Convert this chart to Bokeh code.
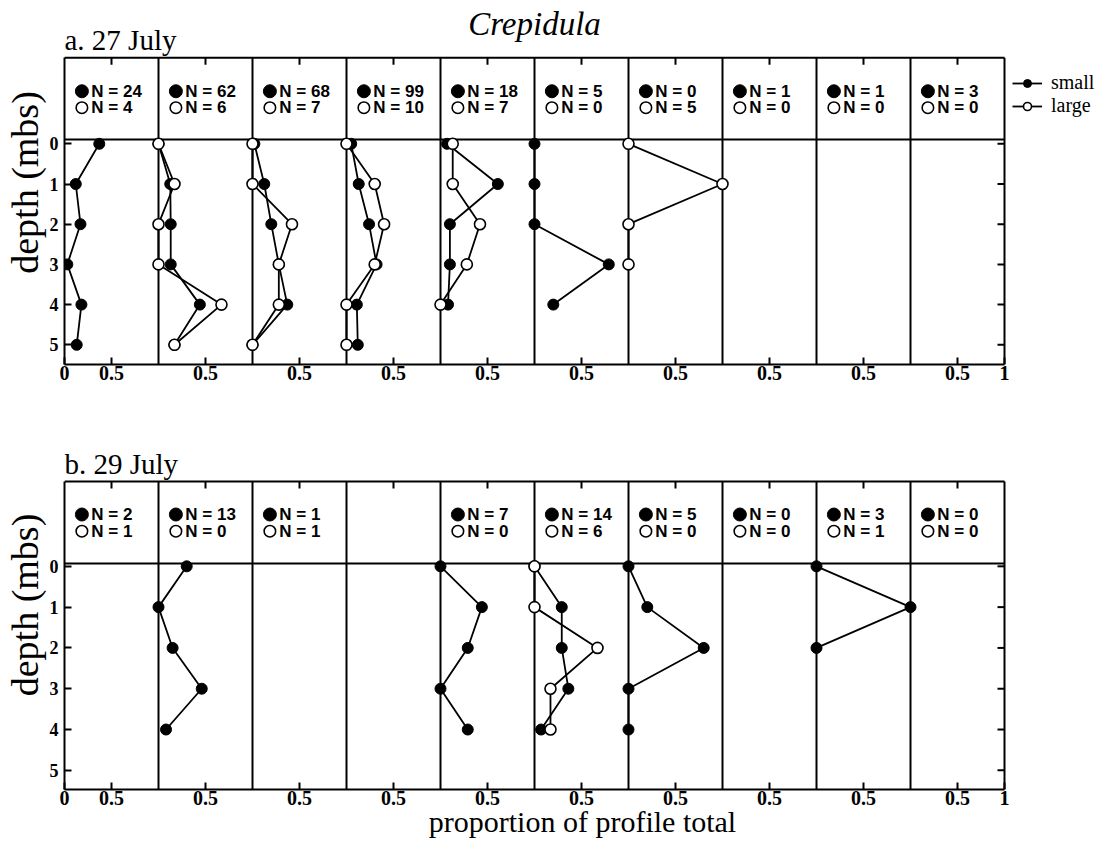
import math
from bokeh.plotting import figure
from bokeh.models import (Range1d, FixedTicker, LinearAxis, Label,
                          Legend, LegendItem)
from bokeh.layouts import column
from bokeh.embed import file_html
from bokeh.resources import INLINE
from bokeh.core.properties import value

# ---------------- data ----------------
depths = [0, 1, 2, 3, 4, 5]
N_COLS = 10

# a. 27 July : proportion of profile total per depth (None = no value)
a_small = [
    [0.37, 0.12, 0.17, 0.03, 0.18, 0.13],
    [0.00, 0.125, 0.13, 0.13, 0.44, 0.17],
    [0.02, 0.125, 0.20, 0.28, 0.37, 0.00],
    [0.05, 0.13, 0.24, 0.32, 0.11, 0.12],
    [0.07, 0.61, 0.10, 0.10, 0.08, None],
    [0.00, 0.00, 0.00, 0.79, 0.20, None],
    [None] * 6,
    [None] * 6,
    [None] * 6,
    [None] * 6,
]
a_large = [
    [None] * 6,
    [0.00, 0.17, 0.00, 0.00, 0.67, 0.17],
    [0.00, 0.00, 0.42, 0.28, 0.28, 0.00],
    [0.00, 0.30, 0.40, 0.30, 0.00, 0.00],
    [0.13, 0.13, 0.42, 0.28, 0.00, None],
    [None] * 6,
    [0.00, 1.00, 0.00, 0.00, None, None],
    [None] * 6,
    [None] * 6,
    [None] * 6,
]
a_n_small = [24, 62, 68, 99, 18, 5, 0, 1, 1, 3]
a_n_large = [4, 6, 7, 10, 7, 0, 5, 0, 0, 0]

# b. 29 July
b_small = [
    [None] * 6,
    [0.30, 0.00, 0.15, 0.46, 0.08, None],
    [None] * 6,
    [None] * 6,
    [0.00, 0.44, 0.29, 0.00, 0.29, None],
    [0.00, 0.29, 0.29, 0.36, 0.07, None],
    [0.00, 0.20, 0.80, 0.00, 0.00, None],
    [None] * 6,
    [0.00, 1.00, 0.00, None, None, None],
    [None] * 6,
]
b_large = [
    [None] * 6,
    [None] * 6,
    [None] * 6,
    [None] * 6,
    [None] * 6,
    [0.00, 0.00, 0.67, 0.17, 0.17, None],
    [None] * 6,
    [None] * 6,
    [None] * 6,
    [None] * 6,
]
b_n_small = [2, 13, 1, None, 7, 14, 5, 0, 3, 0]
b_n_large = [1, 0, 1, None, 0, 6, 0, 0, 1, 0]

x_tick_pos = [0] + [i + 0.5 for i in range(N_COLS)] + [N_COLS]
x_tick_text = ["0"] + ["0.5"] * N_COLS + ["1"]
y_ticks = depths

SERIF = "Liberation Serif"
SANS = "Liberation Sans"
FIG_W = 1100
LEFT = 64
BOX_PX = 940.0          # pixel width of the 10-column box
PX_X = BOX_PX / N_COLS  # pixels per column


def series(cols):
    xs, ys, px, py = [], [], [], []
    for c, vals in enumerate(cols):
        lx, ly = [], []
        for d, v in zip(depths, vals):
            if v is None:
                continue
            lx.append(c + v)
            ly.append(d)
        if lx:
            xs.append(lx)
            ys.append(ly)
            px += lx
            py += ly
    return xs, ys, px, py


def make_panel(small, large, n_small, n_large, y_bottom, box_top, header_y,
               px_y, height, bottom, xlabel=None):
    frame_w = FIG_W - LEFT
    frame_h = height - bottom
    x_end = N_COLS * frame_w / BOX_PX
    y_top = y_bottom - frame_h / px_y
    p = figure(width=FIG_W, height=height,
               x_range=Range1d(0, x_end), y_range=Range1d(y_bottom, y_top),
               x_axis_type=None, y_axis_type=None,
               output_backend="svg", toolbar_location=None,
               min_border_left=LEFT, min_border_right=0,
               min_border_top=0, min_border_bottom=bottom)
    p.outline_line_color = None
    p.background_fill_color = "white"
    p.border_fill_color = "white"

    overrides = {x: t for x, t in zip(x_tick_pos, x_tick_text)}
    bx = LinearAxis(ticker=FixedTicker(ticks=x_tick_pos, minor_ticks=[]),
                    major_label_overrides=overrides, bounds=(0, N_COLS))
    ly = LinearAxis(ticker=FixedTicker(ticks=y_ticks, minor_ticks=[]),
                    major_label_overrides={d: str(d) for d in y_ticks},
                    bounds=(box_top, y_bottom))
    for a in (bx, ly):
        a.axis_line_width = 2
        a.major_tick_line_width = 2
        a.major_tick_in = 7
        a.major_tick_out = 0
        a.minor_tick_line_color = None
        a.major_label_text_font = SERIF
        a.major_label_text_font_style = "bold"
        a.major_label_text_color = "black"
        a.axis_label_text_font = SERIF
        a.axis_label_text_font_style = "normal"
        a.axis_label_text_color = "black"
    bx.major_label_text_font_size = "20px"
    bx.major_label_standoff = 1
    ly.major_label_text_font_size = "18px"
    ly.major_label_standoff = 6
    ly.axis_label = "depth (mbs)"
    ly.axis_label_text_font_size = "38px"
    ly.axis_label_standoff = 1
    if xlabel:
        bx.axis_label = xlabel
        bx.axis_label_text_font_size = "30px"
        bx.axis_label_standoff = -3
    p.add_layout(bx, "below")
    p.add_layout(ly, "left")

    # box edges, column dividers and header divider
    x0 = [float(c) for c in range(1, N_COLS + 1)] + [0.0, 0.0]
    x1 = [float(c) for c in range(1, N_COLS + 1)] + [float(N_COLS)] * 2
    y0 = [box_top] * N_COLS + [box_top, header_y]
    y1 = [y_bottom] * N_COLS + [box_top, header_y]
    p.segment(x0, y0, x1, y1, line_color="black", line_width=2)
    # inward ticks on the top and right edges
    tx = x_tick_pos[1:-1]
    p.segment(tx, [box_top] * len(tx), tx, [box_top + 7 / px_y] * len(tx),
              line_color="black", line_width=2)
    p.segment([N_COLS - 7 / PX_X] * len(y_ticks), y_ticks,
              [float(N_COLS)] * len(y_ticks), y_ticks,
              line_color="black", line_width=2)

    # header counts
    hx_m, tx2, ts, tl = [], [], [], []
    for c in range(N_COLS):
        if n_small[c] is None:
            continue
        hx_m.append(c + 0.185)
        tx2.append(c + 0.285)
        ts.append("N = %d" % n_small[c])
        tl.append("N = %d" % n_large[c])
    hs = header_y - 1.2
    hl = header_y - 0.79
    p.scatter(hx_m, [hs] * len(hx_m), size=13, marker="circle",
              fill_color="black", line_color="black")
    p.scatter(hx_m, [hl] * len(hx_m), size=11.5, marker="circle",
              fill_color="white", line_color="black", line_width=1.6)
    for yy, tt in ((hs, ts), (hl, tl)):
        p.text(tx2, [yy] * len(tx2), text=tt, text_font=value(SANS),
               text_font_style="bold", text_font_size="17px",
               text_baseline="middle", text_align="left", text_color="black")

    # profiles
    sxs, sys_, spx, spy = series(small)
    lxs, lys, lpx, lpy = series(large)
    sl = p.multi_line(sxs, sys_, line_color="black", line_width=1.8)
    sp = p.scatter(spx, spy, size=11, marker="circle",
                   fill_color="black", line_color="black")
    ll = p.multi_line(lxs, lys, line_color="black", line_width=1.8)
    lp = p.scatter(lpx, lpy, size=11, marker="circle",
                   fill_color="white", line_color="black", line_width=1.6)
    return p, (sl, sp, ll, lp)


pa, ra = make_panel(a_small, a_large, a_n_small, a_n_large,
                    y_bottom=5.49, box_top=-2.14, header_y=-0.107,
                    px_y=40.2, height=420, bottom=56)
pa.add_layout(Label(x=0, y=-2.57, text="a. 27 July", text_font=SERIF,
                    text_font_size="29px", text_baseline="alphabetic",
                    text_align="left", text_color="black"))
pa.add_layout(Label(x=5.0, y=-2.97, text="Crepidula", text_font=SERIF,
                    text_font_style="italic", text_font_size="33px",
                    text_baseline="alphabetic", text_align="center",
                    text_color="black"))
lg = Legend(items=[LegendItem(label="small", renderers=[ra[0], ra[1]]),
                   LegendItem(label="large", renderers=[ra[2], ra[3]])],
            location=(948, 247), border_line_color=None,
            background_fill_alpha=0, label_text_color="black",
            label_text_font=SERIF, label_text_font_size="20px",
            glyph_width=30, glyph_height=20, label_height=16,
            label_standoff=9, padding=0, margin=0, spacing=0)
pa.add_layout(lg)

pb, rb = make_panel(b_small, b_large, b_n_small, b_n_large,
                    y_bottom=5.47, box_top=-2.08, header_y=-0.07,
                    px_y=40.8, height=424, bottom=55,
                    xlabel="proportion of profile total")
pb.add_layout(Label(x=0, y=-2.51, text="b. 29 July", text_font=SERIF,
                    text_font_size="29px", text_baseline="alphabetic",
                    text_align="left", text_color="black"))

layout = column(pa, pb, spacing=0)
open("out.html", "w").write(file_html(layout, INLINE))
